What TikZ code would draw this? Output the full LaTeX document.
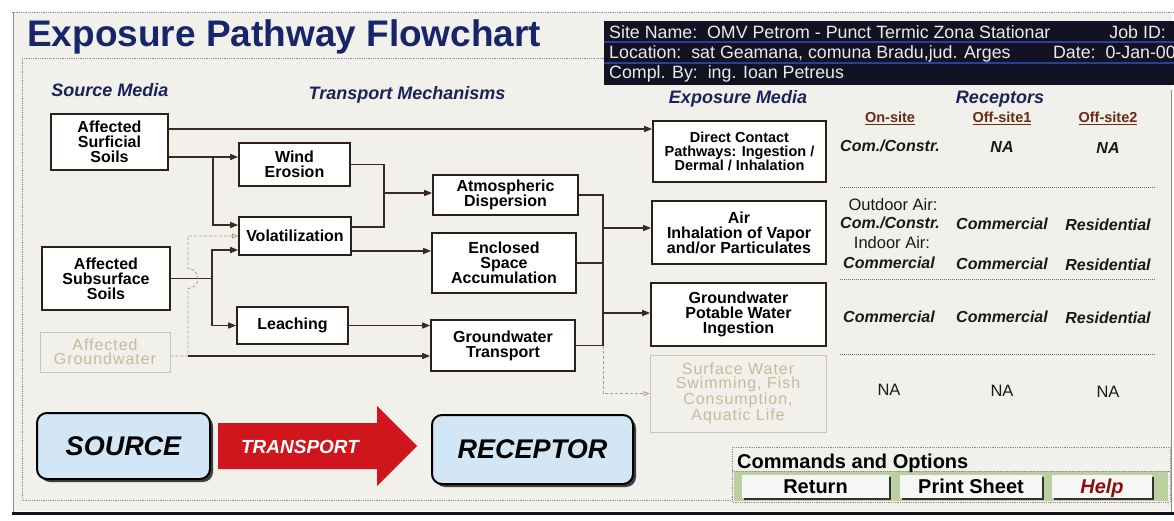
\documentclass[tikz,border=0pt]{standalone}
\usepackage{fontspec}
\setmainfont{Liberation Sans}
\newfontfamily\fadefamily[LetterSpace=6]{Liberation Sans}
\usepackage{xcolor}
\usetikzlibrary{positioning, arrows.meta, calc, shadows}
\definecolor{paper}{HTML}{F2F0EA}
\definecolor{navy}{HTML}{17266B}
\definecolor{headnavy}{HTML}{1A2358}
\definecolor{linecol}{HTML}{3A2A22}
\definecolor{boxedge}{HTML}{2A211C}
\definecolor{fadeedge}{HTML}{CDC5B3}
\definecolor{fadetext}{HTML}{C6BA9C}
\definecolor{siteblue}{HTML}{2B3F9A}
\definecolor{sitebg}{HTML}{121222}
\definecolor{brownhead}{HTML}{6B2B14}
\definecolor{skyfill}{HTML}{D3E6F5}
\definecolor{arrowred}{HTML}{D0151C}
\definecolor{cmdgreen}{HTML}{BCCF9E}
\definecolor{btnface}{HTML}{F6F6F4}
\definecolor{helpred}{HTML}{8A1010}
\definecolor{framegrey}{HTML}{8E8E8E}
\newcommand{\titlefont}{\fontsize{37}{40}\selectfont\bfseries}
\newcommand{\headfont}{\fontsize{18}{20}\selectfont\bfseries\itshape}
\newcommand{\mediafont}{\fontsize{16}{15}\selectfont\bfseries}
\newcommand{\smallmediafont}{\fontsize{14.5}{13.5}\selectfont\bfseries}
\newcommand{\fadefont}{\fontsize{16}{14.5}\selectfont\fadefamily}
\newcommand{\recfont}{\fontsize{16}{18}\selectfont\bfseries\itshape}
\newcommand{\plainfont}{\fontsize{16.5}{18}\selectfont}
\newcommand{\colfont}{\fontsize{14.5}{16}\selectfont\bfseries}
\newcommand{\infofont}{\fontsize{17.8}{19}\selectfont}
\newcommand{\bigfont}{\fontsize{27}{30}\selectfont\bfseries\itshape}
\newcommand{\transfont}{\fontsize{19}{21}\selectfont\bfseries\itshape}
\newcommand{\cmdfont}{\fontsize{20}{22}\selectfont\bfseries}
\tikzset{
  media/.style={
    draw=boxedge, line width=1.6pt, fill=white,
    align=center, font=\mediafont, inner sep=0pt
  },
  faded/.style={
    draw=fadeedge, line width=0.9pt,
    align=center, font=\fadefont, text=fadetext, inner sep=0pt
  },
  link/.style={-{Triangle[length=8pt,width=6pt]}, line width=1.4pt, draw=linecol},
  plain/.style={line width=1.4pt, draw=linecol},
  ghost/.style={-{Triangle[open,length=6pt,width=5pt]}, densely dashed, line width=0.8pt, draw=fadeedge!80!black},
  heading/.style={font=\headfont, text=headnavy},
  colhead/.style={font=\colfont, text=brownhead},
  rec/.style={font=\recfont, text=black!90},
  recplain/.style={font=\plainfont, text=black!90},
  info/.style={font=\infofont, text=white!92!black, inner sep=0pt},
  frame line/.style={framegrey, line width=0.8pt, dash pattern=on 1pt off 0.8pt},
  sep line/.style={black!60, line width=0.8pt, dash pattern=on 1pt off 1pt},
  big box/.style={
    draw=black, line width=2pt, fill=skyfill, rounded corners=10pt,
    font=\bigfont, drop shadow={shadow xshift=3pt, shadow yshift=-3pt, fill=black!75, opacity=1}
  },
  button/.style={
    fill=btnface, font=\cmdfont, inner sep=0pt, text height=14pt, text depth=1pt,
    drop shadow={shadow xshift=2pt, shadow yshift=-2pt, fill=black!80, opacity=1}
  }
}
\begin{document}
\begin{tikzpicture}[x=1pt, y=-1pt]
  \useasboundingbox (0,0) rectangle (1174,521);
  % window and frame
  \fill[white] (0,0) rectangle (1174,521);
  \fill[paper] (13,12) rectangle (1172,511);
  \draw[frame line] (12,12) -- (1174,12);
  \draw[framegrey, line width=1pt] (13,12) -- (13,512);
  \draw[frame line] (22,58) -- (604,58);
  \draw[frame line] (22,58) -- (22,500) -- (732,500);
  \draw[framegrey, line width=1pt] (1171,90) -- (1171,512);
  \draw[sitebg, line width=3pt] (12,513) -- (1174,513);

  % title and site info
  \node[anchor=base west, font=\titlefont, text=navy, inner sep=0pt] (title) at (27,47) {Exposure Pathway Flowchart};
  \fill[sitebg] (604,21) rectangle (1174,85);
  \draw[siteblue, line width=1.2pt] (604,42) -- (1174,42) (604,63) -- (1174,63);
  \node[info, anchor=base west] (site) at (609,39) {Site Name:\ \ OMV Petrom - Punct Termic Zona Stationar};
  \node[info, anchor=base east] (job) at (1166,39) {Job ID:};
  \node[info, anchor=base west] (loc) at (609,59) {Location:\ \ sat Geamana, comuna Bradu,jud. Arges};
  \node[info, anchor=base east] (date) at (1176,59) {Date:\ \ 0-Jan-00};
  \node[info, anchor=base west] (compl) at (609,79) {Compl. By:\ \ ing. Ioan Petreus};

  % column headings
  \node[heading] (srchead) at (110,90) {Source Media};
  \node[heading] (trhead) at (407,95) {Transport Mechanisms};
  \node[heading] (exhead) at (738,99) {Exposure Media};
  \node[heading] (rchead) at (1000,99) {Receptors};

  % source media
  \node[media, minimum width=117pt, minimum height=56pt] (surf) at (109.5,142) {Affected\\Surficial\\Soils};
  \node[media, minimum width=128pt, minimum height=63pt] (subsurf) at (106,278.5) {Affected\\Subsurface\\Soils};
  \node[faded, minimum width=130pt, minimum height=40pt] (gw) at (105,352) {Affected\\Groundwater};

  % transport mechanisms
  \node[media, minimum width=111pt, minimum height=43pt] (wind) at (294.5,164.5) {Wind\\Erosion};
  \node[media, minimum width=112pt, minimum height=38pt] (vol) at (295,236) {Volatilization};
  \node[media, minimum width=111pt, minimum height=37pt] (leach) at (292.5,325.5) {Leaching};
  \node[media, minimum width=145pt, minimum height=40pt] (atm) at (505.5,195) {Atmospheric\\Dispersion};
  \node[media, minimum width=144pt, minimum height=60pt] (encl) at (504,263) {Enclosed\\Space\\Accumulation};
  \node[media, minimum width=144pt, minimum height=51pt] (gwt) at (503,345.5) {Groundwater\\Transport};

  % exposure media
  \node[media, font=\smallmediafont, minimum width=173pt, minimum height=61pt] (direct) at (739.5,151.5) {Direct Contact\\Pathways: Ingestion /\\Dermal / Inhalation};
  \node[media, minimum width=174pt, minimum height=63pt] (air) at (739,232.5) {Air\\Inhalation of Vapor\\and/or Particulates};
  \node[media, minimum width=175pt, minimum height=63pt] (gwp) at (738.5,314.5) {Groundwater\\Potable Water\\Ingestion};
  \node[faded, minimum width=176pt, minimum height=77pt] (sw) at (738,393.5) {Surface Water\\Swimming, Fish\\Consumption,\\Aquatic Life};

  % source to transport
  \coordinate (ja) at (213,157);
  \draw[link] ([yshift=13pt]surf.east) -- ([yshift=13pt]surf.east -| direct.west);
  \draw[link] ([yshift=-15pt]surf.east) -- ([yshift=-15pt]surf.east -| wind.west);
  \draw[link] (ja) |- ([yshift=11pt]vol.west);
  \coordinate (jb) at ([xshift=41pt]subsurf.east);
  \draw[plain] (subsurf.east) -- (jb);
  \draw[link] (jb) |- ([yshift=-14pt]vol.west);
  \draw[link] (jb) |- (leach.west);
  \coordinate (jc) at (188,356);
  \draw[ghost] ([yshift=-4pt]gw.east) -- (jc) -- ++(0,-67.5)
    arc[start angle=-90, end angle=90, radius=10pt] |- (vol.west);
  \draw[link] (jc) -- (jc -| gwt.west);

  % transport to transport
  \coordinate (jd) at (384,193);
  \draw[plain] (wind.east) -| (jd) |- ([yshift=9pt]vol.east);
  \draw[link] (jd) -- (jd -| atm.west);
  \draw[link] ([yshift=-15pt]vol.east) -- ([yshift=-15pt]vol.east -| encl.west);
  \draw[link] (leach.east) -- (leach.east -| gwt.west);

  % transport to exposure media
  \coordinate (je) at (603,228);
  \coordinate (jf) at (603,313);
  \draw[plain] (atm.east) -| (je) -- (jf) |- (gwt.east);
  \draw[plain] (encl.east) -- (encl.east -| je);
  \draw[link] (je) -- (je -| air.west);
  \draw[link] (jf) -- (jf -| gwp.west);
  \draw[ghost] (gwt.east -| jf) |- (sw.west);

  % receptors
  \node[colhead] (onsite) at (890,118) {\underline{On-site}};
  \node[colhead] (offa) at (1002,118) {\underline{Off-site1}};
  \node[colhead] (offb) at (1108,118) {\underline{Off-site2}};
  \node[rec] (r1a) at (890,146) {Com./Constr.};
  \node[rec] (r1b) at (1002,147) {NA};
  \node[rec] (r1c) at (1108,148) {NA};
  \node[recplain] (outair) at (893,205) {Outdoor Air:};
  \node[rec] (r2a) at (890,223) {Com./Constr.};
  \node[rec] (r2b) at (1002,224) {Commercial};
  \node[rec] (r2c) at (1108,225) {Residential};
  \node[recplain] (inair) at (892,243) {Indoor Air:};
  \node[rec] (r3a) at (889,263) {Commercial};
  \node[rec] (r3b) at (1002,264) {Commercial};
  \node[rec] (r3c) at (1108,265) {Residential};
  \node[rec] (r4a) at (889,317) {Commercial};
  \node[rec] (r4b) at (1002,317) {Commercial};
  \node[rec] (r4c) at (1108,318) {Residential};
  \node[recplain] (r5a) at (889,390) {NA};
  \node[recplain] (r5b) at (1002,391) {NA};
  \node[recplain] (r5c) at (1108,392) {NA};
  \foreach \y in {187,279,354}
    \draw[sep line] (840,\y) -- (1155,\y);

  % source - transport - receptor
  \node[big box, minimum width=173pt, minimum height=66pt] (source) at (123.5,446) {SOURCE};
  \fill[arrowred] (218,423) -- (377,423) -- (377,406) -- (417,446) -- (377,486) -- (377,469) -- (218,469) -- cycle;
  \node[font=\transfont, text=white] (transport) at (300,447) {TRANSPORT};
  \node[big box, minimum width=201pt, minimum height=69pt] (receptor) at (532.5,449.5) {RECEPTOR};

  % commands and options
  \draw[frame line, fill=paper] (732,447) rectangle (1170,502);
  \fill[cmdgreen] (734,471) rectangle (1168,501);
  \draw[frame line] (732,471) -- (1170,471);
  \node[anchor=base west, font=\cmdfont, inner sep=0pt] (cmdtitle) at (737,468) {Commands and Options};
  \node[button, minimum width=147pt, minimum height=23pt] (ret) at (815.5,486.5) {Return};
  \node[button, minimum width=142pt, minimum height=23pt] (print) at (971,486.5) {Print Sheet};
  \node[button, minimum width=100pt, minimum height=23pt, font=\cmdfont\itshape, text=helpred] (help) at (1102,486.5) {Help};
\end{tikzpicture}
\end{document}
